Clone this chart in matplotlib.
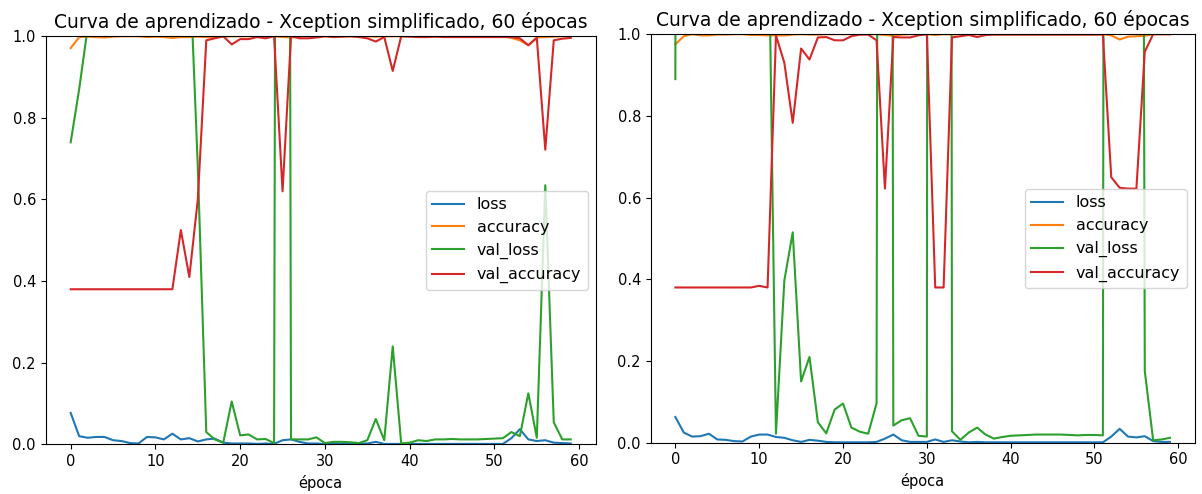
import matplotlib
matplotlib.use("Agg")
import matplotlib.pyplot as plt

# -------------------------
# DATA (read from the two training runs)
# -------------------------
epochs = list(range(60))
series_names = ["loss", "accuracy", "val_loss", "val_accuracy"]
title = "Curva de aprendizado - Xception simplificado, 60 épocas"

# run 1 (left)
loss_1 = [0.077, 0.020, 0.016, 0.018, 0.018, 0.010, 0.008, 0.003, 0.002, 0.018,
          0.017, 0.012, 0.026, 0.012, 0.015, 0.007, 0.012, 0.014, 0.004, 0.002,
          0.002, 0.002, 0.001, 0.002, 0.001, 0.010, 0.012, 0.006, 0.002, 0.002,
          0.001, 0.002, 0.001, 0.001, 0.002, 0.002, 0.006, 0.001, 0.001, 0.001,
          0.001, 0.001, 0.001, 0.001, 0.001, 0.001, 0.001, 0.001, 0.001, 0.001,
          0.001, 0.001, 0.015, 0.037, 0.012, 0.008, 0.010, 0.004, 0.003, 0.002]
acc_1 = [0.971, 0.998, 0.999, 0.998, 0.997, 0.999, 1.0, 1.0, 1.0, 0.998,
         0.999, 0.998, 0.996, 0.998, 0.998, 0.999, 0.998, 0.997, 0.999, 1.0,
         1.0, 1.0, 1.0, 1.0, 1.0, 0.998, 0.997, 0.999, 1.0, 1.0,
         1.0, 1.0, 1.0, 1.0, 1.0, 1.0, 0.999, 1.0, 1.0, 1.0,
         1.0, 1.0, 1.0, 1.0, 1.0, 1.0, 1.0, 1.0, 1.0, 1.0,
         1.0, 1.0, 0.996, 0.990, 0.978, 0.997, 0.998, 0.999, 1.0, 1.0]
val_loss_1 = [0.74, 0.87, 1.02, 3.1, 4.6, 5.3, 4.8, 6.2, 5.5, 4.9,
              5.8, 4.4, 3.7, 2.9, 1.2, 0.68, 0.03, 0.012, 0.004, 0.105,
              0.022, 0.024, 0.012, 0.013, 0.003, 9.0, 0.012, 0.012, 0.012, 0.017,
              0.003, 0.006, 0.006, 0.005, 0.003, 0.010, 0.062, 0.010, 0.24, 0.002,
              0.004, 0.010, 0.008, 0.012, 0.012, 0.013, 0.012, 0.012, 0.012, 0.013,
              0.014, 0.015, 0.030, 0.020, 0.125, 0.016, 0.635, 0.054, 0.012, 0.012]
val_acc_1 = [0.38, 0.38, 0.38, 0.38, 0.38, 0.38, 0.38, 0.38, 0.38, 0.38,
             0.38, 0.38, 0.38, 0.525, 0.41, 0.60, 0.99, 0.995, 1.0, 0.98,
             0.993, 0.993, 0.998, 0.995, 1.0, 0.62, 1.0, 0.995, 0.995, 0.997,
             1.0, 0.998, 0.999, 1.0, 0.998, 0.995, 0.987, 0.998, 0.915, 1.0,
             0.999, 0.998, 0.998, 0.999, 0.998, 0.998, 0.998, 0.998, 0.998, 0.998,
             0.998, 0.998, 0.998, 0.995, 0.978, 0.996, 0.722, 0.990, 0.994, 0.996]

# run 2 (right)
loss_2 = [0.063, 0.025, 0.015, 0.016, 0.022, 0.008, 0.007, 0.004, 0.003, 0.015,
          0.020, 0.020, 0.014, 0.012, 0.006, 0.002, 0.007, 0.005, 0.002, 0.001,
          0.001, 0.001, 0.001, 0.001, 0.002, 0.010, 0.020, 0.006, 0.002, 0.002,
          0.002, 0.008, 0.002, 0.006, 0.003, 0.001, 0.002, 0.001, 0.001, 0.001,
          0.001, 0.001, 0.001, 0.001, 0.001, 0.001, 0.001, 0.001, 0.001, 0.001,
          0.001, 0.001, 0.015, 0.034, 0.015, 0.013, 0.016, 0.004, 0.002, 0.002]
acc_2 = [0.975, 0.995, 1.0, 0.997, 0.997, 0.999, 0.999, 1.0, 1.0, 0.998,
         0.998, 0.997, 0.997, 0.997, 0.999, 1.0, 0.999, 0.999, 1.0, 1.0,
         1.0, 1.0, 1.0, 1.0, 1.0, 0.998, 0.996, 0.999, 1.0, 1.0,
         1.0, 0.998, 1.0, 0.999, 1.0, 1.0, 1.0, 1.0, 1.0, 1.0,
         1.0, 1.0, 1.0, 1.0, 1.0, 1.0, 1.0, 1.0, 1.0, 1.0,
         1.0, 1.0, 0.997, 0.987, 0.994, 0.995, 0.996, 1.0, 1.0, 1.0]
val_loss_2 = [0.89, 28.0, 14.0, 9.5, 7.2, 6.0, 5.1, 4.3, 3.6, 2.8,
              2.1, 1.45, 0.022, 0.397, 0.515, 0.15, 0.21, 0.05, 0.023, 0.081,
              0.096, 0.037, 0.027, 0.022, 0.096, 12.0, 0.042, 0.055, 0.06, 0.017,
              0.015, 25.0, 20.0, 0.028, 0.007, 0.025, 0.037, 0.020, 0.010, 0.014,
              0.017, 0.018, 0.019, 0.020, 0.020, 0.020, 0.020, 0.019, 0.018, 0.019,
              0.019, 0.018, 15.0, 11.0, 9.0, 8.0, 0.175, 0.006, 0.008, 0.012]
val_acc_2 = [0.38, 0.38, 0.38, 0.38, 0.38, 0.38, 0.38, 0.38, 0.38, 0.38,
             0.384, 0.38, 0.997, 0.93, 0.783, 0.965, 0.938, 0.992, 0.993, 0.985,
             0.985, 0.995, 0.999, 0.999, 0.985, 0.622, 0.993, 0.992, 0.992, 0.997,
             1.0, 0.38, 0.38, 0.992, 0.995, 0.998, 0.993, 0.998, 0.999, 0.999,
             0.999, 0.999, 0.999, 0.999, 0.999, 0.999, 0.999, 0.999, 0.999, 0.999,
             0.999, 0.999, 0.65, 0.624, 0.622, 0.622, 0.957, 1.0, 1.0, 1.0]

runs = [
    (loss_1, acc_1, val_loss_1, val_acc_1),
    (loss_2, acc_2, val_loss_2, val_acc_2),
]

# -------------------------
# PLOT
# -------------------------
fig = plt.figure(figsize=(12.02, 4.94), dpi=100)
positions = [
    [0.038, 0.1006, 0.4576, 0.826],
    [0.5413, 0.1038, 0.4526, 0.827],
]

for pos, run in zip(positions, runs):
    ax = fig.add_axes(pos)
    for name, values in zip(series_names, run):
        ax.plot(epochs, values, label=name)
    ax.set_ylim(0, 1)
    ax.set_title(title, fontsize=13.5)
    ax.set_xlabel("época", fontsize=10.5)
    ax.tick_params(labelsize=10.5)
    ax.legend(loc="center right", fontsize=11.5)

fig.savefig("out.png", dpi=100)
